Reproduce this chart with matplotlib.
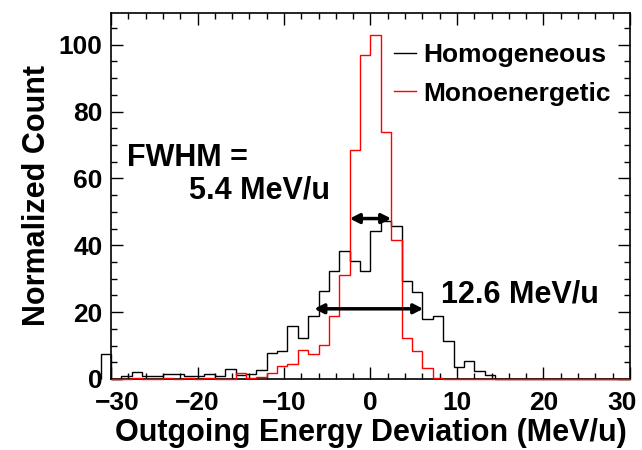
import numpy as np
import matplotlib
matplotlib.use("Agg")
import matplotlib.pyplot as plt
from matplotlib.ticker import MultipleLocator
from matplotlib.transforms import ScaledTranslation

plt.rcParams['font.family'] = ['Liberation Sans', 'DejaVu Sans']
plt.rcParams['font.weight'] = 'bold'

# ---- data ----
bin_start = -31.2
bin_width = 1.2
# first bin (-31.2..-30) is the underflow bin that ROOT draws outside the frame
homogeneous = [7.4,
               0.0, 0.8, 2.1, 0.8, 0.8, 1.6, 1.6, 0.8, 0.8, 1.6,
               0.8, 3.0, 1.2, 1.6, 2.6, 7.7, 8.4, 15.8, 12.4, 18.8,
               26.4, 32.3, 38.3, 35.3, 32.3, 44.3, 47.3, 45.7, 29.3, 26.0,
               18.0, 18.8, 11.5, 3.6, 5.3, 2.4, 1.1, 0.0, 0.0, 0.0,
               0.0, 0.0, 0.0, 0.0, 0.0, 0.0, 0.0, 0.0, 0.0, 0.0]
monoenergetic = [0.0,
                 0.0, 0.0, 0.3, 0.0, 0.0, 0.3, 0.0, 0.3, 0.0, 0.3,
                 0.0, 0.0, 1.8, 0.2, 0.5, 1.9, 4.0, 4.5, 8.7, 7.4,
                 10.1, 18.9, 31.0, 68.6, 97.0, 103.0, 74.0, 41.5, 12.4, 8.4,
                 3.2, 0.3, 0.0, 0.0, 0.0, 0.0, 0.0, 0.0, 0.0, 0.0,
                 0.0, 0.0, 0.0, 0.0, 0.0, 0.0, 0.0, 0.0, 0.0, 0.0]
series_labels = ['Homogeneous', 'Monoenergetic']
fwhm_mono = [-2.4, 2.4, 48.0]     # x1, x2, y
fwhm_homo = [-6.5, 6.1, 21.0]
xlim = [-30, 30]
ylim = [0, 109.5]

edges = bin_start + bin_width * np.arange(len(homogeneous) + 1)

fig = plt.figure(figsize=(6.42, 4.50), dpi=100)
ax = fig.add_axes([0.1729, 0.1578, 0.8084, 0.8133])

ax.stairs(homogeneous, edges, color='black', lw=1.0, baseline=0,
          clip_on=False, label=series_labels[0], zorder=3)
ax.stairs(monoenergetic[1:], edges[1:], color='#ff0000', lw=1.0, baseline=0,
          label=series_labels[1], zorder=4, clip_on=False)

ax.set_xlim(*xlim)
ax.set_ylim(*ylim)

ax.xaxis.set_major_locator(MultipleLocator(10))
ax.xaxis.set_minor_locator(MultipleLocator(2))
ax.yaxis.set_major_locator(MultipleLocator(20))
ax.yaxis.set_minor_locator(MultipleLocator(5))
ax.tick_params(which='both', direction='in', top=True, right=True,
               width=1.0, labelsize=19)
ax.tick_params(which='major', length=8.5)
ax.tick_params(which='minor', length=4.3)
ax.tick_params(axis='x', pad=9)
ax.tick_params(axis='y', pad=6)
for lab in ax.get_xticklabels() + ax.get_yticklabels():
    lab.set_fontweight('bold')
for s in ax.spines.values():
    s.set_linewidth(1.2)

ax.set_xlabel('Outgoing Energy Deviation (MeV/u)', fontsize=22,
              fontweight='bold', labelpad=2)
ax.set_ylabel('Normalized Count', fontsize=22, fontweight='bold', labelpad=5)

arrow_kw = dict(arrowstyle='<|-|>,head_length=0.55,head_width=0.28',
                color='black', lw=2.5, shrinkA=0, shrinkB=0)
ax.annotate('', xy=(fwhm_mono[0], fwhm_mono[2]), xytext=(fwhm_mono[1], fwhm_mono[2]),
            arrowprops=arrow_kw, zorder=5)
ax.annotate('', xy=(fwhm_homo[0], fwhm_homo[2]), xytext=(fwhm_homo[1], fwhm_homo[2]),
            arrowprops=arrow_kw, zorder=5)

ax.text(-28.1, 66.0, 'FWHM =', fontsize=22, fontweight='bold', ha='left', va='center')
ax.text(-21.0, 56.3, '5.4 MeV/u', fontsize=22, fontweight='bold', ha='left', va='center')
ax.text(8.2, 25.2, '12.6 MeV/u', fontsize=22, fontweight='bold', ha='left', va='center')

leg = ax.legend(loc='upper left', bbox_to_anchor=(0.545, 0.918), frameon=False,
                fontsize=19, handlelength=0.85, handletextpad=0.25,
                labelspacing=0.55, borderpad=0, borderaxespad=0)
for t in leg.get_texts():
    t.set_fontweight('bold')

# ROOT pulls the outermost x labels inward
fig.canvas.draw()
for tick in ax.xaxis.get_major_ticks():
    loc = tick.get_loc()
    if np.isclose(loc, xlim[0]):
        tick.label1.set_transform(tick.label1.get_transform() +
                                  ScaledTranslation(6 / 100, 0, fig.dpi_scale_trans))
    elif np.isclose(loc, xlim[1]):
        tick.label1.set_transform(tick.label1.get_transform() +
                                  ScaledTranslation(-8 / 100, 0, fig.dpi_scale_trans))

fig.savefig('out.png', dpi=100)
